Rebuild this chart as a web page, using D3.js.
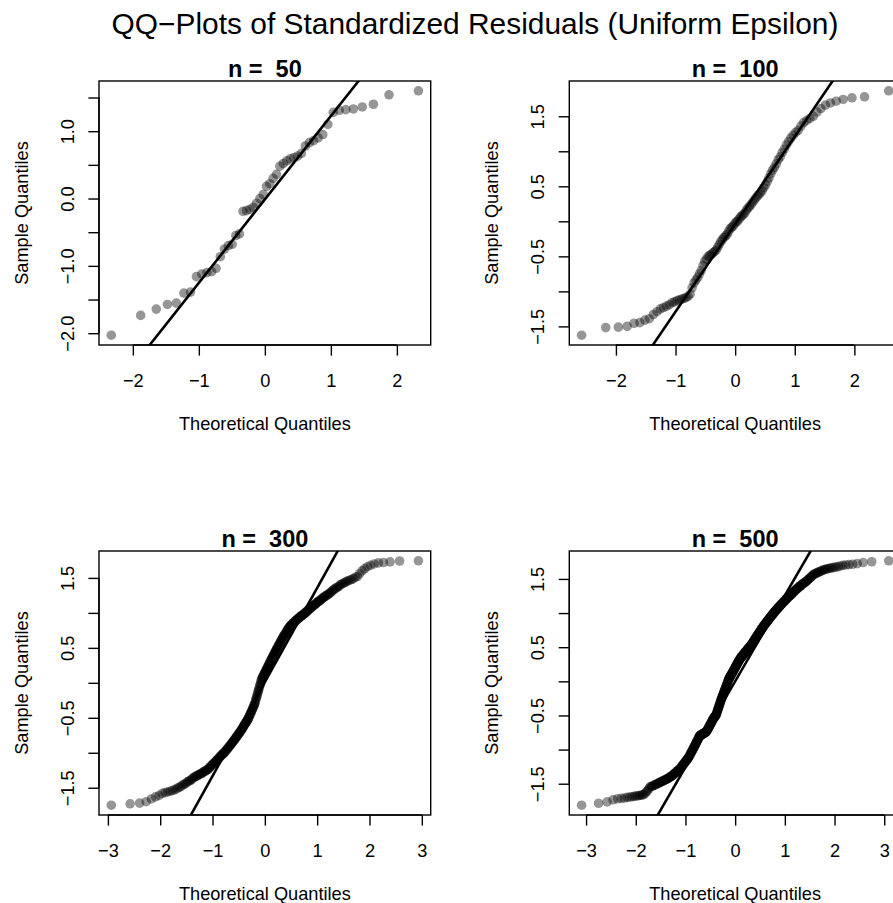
<!DOCTYPE html>
<html><head><meta charset="utf-8">
<script src="https://cdn.jsdelivr.net/npm/d3@7"></script>
<style>
body{margin:0;background:#fff}
svg text{font-family:"Liberation Sans",Arial,Helvetica,sans-serif;fill:#000}
</style>
</head><body>
<svg id="chart" width="893" height="903"></svg>
<script>
// ---------------- data ----------------
const mainTitle = "QQ\u2212Plots of Standardized Residuals (Uniform Epsilon)";
const panelTitles = ["n =  50", "n =  100", "n =  300", "n =  500"];
const xAxisTitle = "Theoretical Quantiles";
const yAxisTitle = "Sample Quantiles";

// sorted standardized residuals (sample quantiles)
const sample50 = [-2.03,-1.736,-1.642,-1.573,-1.553,-1.405,-1.39,-1.16,-1.12,-1.10,-1.085,-1.036,-0.864,-0.75,-0.70,-0.68,-0.55,-0.525,
-0.19,-0.18,-0.16,-0.13,-0.07,0.0,0.06,0.18,0.22,0.30,0.36,0.48,0.52,0.56,0.59,0.61,0.63,0.67,0.78,0.83,0.86,0.90,0.95,1.10,
1.28,1.31,1.32,1.33,1.36,1.40,1.54,1.60];

const sample100 = [-1.626,-1.517,-1.51,-1.50,-1.455,-1.446,-1.41,-1.39,-1.33,-1.29,-1.25,-1.23,-1.21,-1.19,-1.16,-1.15,-1.13,-1.12,-1.11,-1.10,
-1.09,-1.07,-1.04,-0.95,-0.88,-0.84,-0.80,-0.75,-0.70,-0.63,-0.57,-0.54,-0.50,-0.49,-0.47,-0.45,-0.43,-0.41,-0.37,-0.33,
-0.29,-0.26,-0.23,-0.21,-0.19,-0.15,-0.11,-0.09,-0.07,-0.04,-0.01,0.00,0.03,0.06,0.08,0.10,0.12,0.16,0.19,0.21,
0.24,0.27,0.30,0.33,0.36,0.38,0.41,0.44,0.48,0.52,0.57,0.62,0.68,0.73,0.77,0.82,0.88,0.92,0.98,1.03,
1.09,1.14,1.19,1.23,1.27,1.30,1.36,1.41,1.44,1.47,1.50,1.56,1.61,1.66,1.69,1.715,1.74,1.764,1.778,1.864];

const sample300 = [-1.75,-1.73,-1.72,-1.70,-1.66,-1.63,-1.61,-1.58,
-1.57,-1.56,-1.55,-1.54,-1.53,
-1.52,-1.50,-1.49,-1.48,-1.46,-1.45,
-1.44,-1.42,-1.41,-1.40,-1.39,-1.38,-1.36,-1.35,
-1.34,-1.33,-1.33,-1.32,-1.31,-1.30,-1.30,-1.29,-1.28,-1.27,-1.27,-1.26,-1.25,-1.24,-1.24,
-1.23,-1.21,-1.20,-1.19,-1.18,-1.17,-1.16,-1.15,-1.14,-1.13,-1.12,-1.11,-1.10,-1.09,
-1.08,-1.07,-1.06,-1.05,-1.04,-1.03,-1.02,-1.02,-1.01,-1.00,-0.99,-0.98,-0.97,-0.96,-0.95,-0.94,-0.93,
-0.92,-0.91,-0.90,-0.89,-0.88,-0.87,-0.86,-0.85,-0.84,-0.83,-0.82,-0.81,-0.80,-0.79,-0.78,-0.77,-0.76,-0.75,-0.74,
-0.73,-0.72,-0.71,-0.70,-0.69,-0.68,-0.67,-0.66,-0.65,-0.64,-0.62,-0.61,-0.60,-0.59,-0.58,-0.57,-0.56,-0.55,-0.54,-0.53,-0.52,
-0.50,-0.49,-0.47,-0.46,-0.44,-0.43,-0.41,-0.40,-0.38,-0.37,-0.35,-0.34,-0.32,-0.31,-0.29,
-0.27,-0.24,-0.22,-0.20,-0.18,-0.15,-0.13,-0.11,-0.09,-0.06,-0.04,-0.02,0.00,0.03,0.05,
0.06,0.08,0.09,0.10,0.11,0.13,0.14,0.15,0.16,0.18,0.19,0.20,0.21,0.23,0.24,
0.25,0.27,0.28,0.29,0.30,0.32,0.33,0.34,0.35,0.37,0.38,0.39,0.40,0.42,0.43,
0.44,0.45,0.47,0.48,0.49,0.50,0.51,0.53,0.54,0.55,0.56,0.57,0.59,0.60,0.61,0.62,0.63,0.65,0.66,
0.67,0.68,0.69,0.70,0.71,0.72,0.73,0.75,0.76,0.77,0.78,0.79,0.80,0.81,
0.82,0.82,0.83,0.84,0.84,0.85,0.86,0.86,0.87,0.88,0.89,0.89,0.90,
0.91,0.91,0.92,0.93,0.93,0.94,0.95,0.95,0.96,0.96,0.97,0.98,0.98,0.99,1.00,1.00,1.01,1.02,
1.03,1.04,1.04,1.05,1.06,1.07,1.08,1.08,1.09,1.10,1.11,1.12,1.12,1.13,1.14,
1.15,1.16,1.17,1.17,1.18,1.19,1.20,1.21,1.22,1.23,1.24,1.24,1.25,1.26,1.27,1.28,
1.29,1.30,1.32,1.33,1.34,1.35,1.36,1.37,1.38,1.40,1.41,1.42,
1.43,1.44,1.45,1.46,1.47,1.48,1.49,1.51,1.52,
1.56,1.60,1.63,1.66,1.68,1.70,1.715,1.72,1.73,1.742,1.745];

const sample500 = [-1.815,-1.786,-1.766,-1.737,-1.72,-1.715,-1.71,-1.70,
-1.695,-1.69,-1.685,-1.68,
-1.676,-1.672,-1.668,-1.664,-1.66,
-1.64,-1.62,-1.60,-1.575,-1.55,
-1.54,-1.54,-1.53,-1.52,-1.52,-1.51,-1.51,-1.50,-1.49,-1.49,-1.48,
-1.475,-1.47,-1.465,-1.46,-1.455,-1.45,-1.445,-1.44,-1.435,-1.43,-1.425,-1.42,-1.415,-1.41,
-1.40,-1.40,-1.39,-1.39,-1.38,-1.37,-1.37,-1.36,-1.35,-1.35,-1.34,-1.33,-1.33,-1.32,-1.31,-1.31,-1.30,-1.30,-1.29,
-1.28,-1.27,-1.27,-1.26,-1.25,-1.24,-1.23,-1.22,-1.22,-1.21,-1.20,-1.19,-1.18,-1.18,-1.17,-1.16,-1.15,-1.14,-1.14,-1.13,-1.12,-1.11,-1.10,-1.095,
-1.08,-1.07,-1.06,-1.05,-1.04,-1.03,-1.02,-1.01,-1.00,-0.99,-0.98,-0.97,-0.96,-0.95,-0.94,-0.93,-0.92,-0.91,-0.90,
-0.89,-0.88,-0.87,-0.86,-0.85,-0.84,-0.83,-0.82,-0.81,-0.80,
-0.80,-0.79,-0.79,-0.79,-0.79,-0.78,-0.78,-0.78,-0.77,-0.77,-0.77,-0.77,-0.76,-0.76,-0.76,-0.75,-0.75,-0.75,-0.75,-0.74,-0.74,-0.74,
-0.73,-0.72,-0.72,-0.71,-0.70,-0.69,-0.69,-0.68,-0.67,-0.66,-0.65,-0.65,-0.64,-0.63,-0.62,-0.62,-0.61,-0.60,-0.59,-0.58,-0.58,-0.57,-0.56,
-0.55,-0.55,-0.54,-0.54,-0.53,-0.52,-0.52,-0.51,-0.51,-0.50,-0.50,-0.49,
-0.48,-0.47,-0.46,-0.44,-0.43,-0.42,-0.41,-0.40,-0.39,-0.37,-0.36,-0.35,-0.34,-0.33,-0.32,-0.30,-0.29,-0.28,-0.27,
-0.26,-0.25,-0.24,-0.23,-0.22,-0.21,-0.20,-0.19,-0.18,-0.17,-0.16,-0.15,-0.14,-0.13,-0.12,-0.11,-0.10,-0.09,-0.08,-0.07,-0.06,-0.05,-0.04,-0.03,-0.02,-0.01,0.00,0.01,0.02,0.03,0.04,0.045,0.05,
0.06,0.06,0.07,0.08,0.08,0.09,0.10,0.10,0.11,0.12,0.12,0.13,0.14,0.14,0.15,0.16,0.16,0.17,0.18,0.18,
0.19,0.20,0.20,0.21,0.22,0.22,0.23,0.24,0.24,0.25,0.26,0.26,0.27,0.28,0.28,0.29,0.30,0.30,0.31,0.32,
0.32,0.33,0.33,0.34,0.34,0.35,0.35,0.36,0.36,0.37,0.37,0.37,0.38,0.38,0.39,0.39,0.40,0.40,0.41,0.41,
0.42,0.42,0.43,0.43,0.43,0.44,0.44,0.45,0.45,0.46,0.46,0.47,0.47,0.48,0.48,0.49,0.49,0.49,0.50,0.50,
0.51,0.51,0.52,0.52,0.53,0.53,0.54,0.54,0.55,0.55,0.56,
0.57,0.57,0.58,0.58,0.59,0.60,0.60,0.61,0.62,0.62,0.63,0.63,0.64,0.65,0.65,0.66,0.67,0.67,0.68,0.68,
0.69,0.70,0.70,0.71,0.72,0.72,0.73,0.73,0.74,0.75,0.75,0.76,0.77,0.77,0.78,0.78,0.79,0.80,0.80,0.81,
0.82,0.82,0.83,0.83,0.84,0.845,0.85,
0.86,0.86,0.87,0.87,0.88,0.89,0.89,0.90,0.90,0.91,0.92,0.92,0.93,0.93,0.94,0.95,0.95,0.96,0.96,0.97,
0.98,0.98,0.99,0.99,1.00,1.01,1.01,1.02,1.02,1.03,1.04,1.04,1.05,1.05,1.06,1.07,1.07,1.08,1.08,1.09,1.095,
1.10,1.11,1.11,1.12,1.13,1.13,1.14,1.14,1.15,1.16,1.16,1.17,1.17,1.18,1.19,1.19,1.20,1.21,1.21,1.22,
1.23,1.23,1.24,1.24,1.25,1.26,1.26,1.27,1.27,1.28,1.29,
1.30,1.30,1.31,1.32,1.33,1.33,1.34,1.35,1.35,1.36,1.37,1.38,1.38,1.39,1.40,1.40,1.41,1.42,1.43,1.43,1.44,1.45,1.45,1.46,
1.47,1.48,1.49,1.50,1.51,1.52,1.53,1.545,1.557,
1.565,1.57,1.58,1.585,1.59,1.60,1.605,1.61,1.62,1.63,
1.635,1.64,1.645,1.65,1.655,1.66,1.665,1.67,1.675,1.68,
1.69,1.70,1.705,1.71,1.715,1.725,1.74,1.752,1.766];

const samples = [sample50, sample100, sample300, sample500];

// reference lines (intercept, slope)
const lineIntercepts = [-0.014, -0.04, 0.012, 0.0];
const lineSlopes = [1.239, 1.25, 1.345, 1.257];

// ticks
const xTicksA = [-2, -1, 0, 1, 2];
const xTickLabelsA = ["\u22122", "\u22121", "0", "1", "2"];
const xTicksB = [-3, -2, -1, 0, 1, 2, 3];
const xTickLabelsB = ["\u22123", "\u22122", "\u22121", "0", "1", "2", "3"];
const yTicksA = [-2, -1.5, -1, -0.5, 0, 0.5, 1, 1.5];
const yTickLabelsA = ["\u22122.0", "", "\u22121.0", "", "0.0", "", "1.0", ""];
const yTicksB = [-1.5, -1, -0.5, 0, 0.5, 1, 1.5];
const yTickLabelsB = ["\u22121.5", "", "\u22120.5", "", "0.5", "", "1.5"];

const xTicks = [xTicksA, xTicksA, xTicksB, xTicksB];
const xTickLabels = [xTickLabelsA, xTickLabelsA, xTickLabelsB, xTickLabelsB];
const yTicks = [yTicksA, yTicksB, yTicksB, yTicksB];
const yTickLabels = [yTickLabelsA, yTickLabelsB, yTickLabelsB, yTickLabelsB];

// ---------------- helpers ----------------
function qnorm(p) {
  const a=[-3.969683028665376e+01,2.209460984245205e+02,-2.759285104469687e+02,1.383577518672690e+02,-3.066479806614716e+01,2.506628277459239e+00];
  const b=[-5.447609879822406e+01,1.615858368580409e+02,-1.556989798598866e+02,6.680131188771972e+01,-1.328068155288572e+01];
  const c=[-7.784894002430293e-03,-3.223964580411365e-01,-2.400758277161838e+00,-2.549732539343734e+00,4.374664141464968e+00,2.938163982698783e+00];
  const d=[7.784695709041462e-03,3.224671290700398e-01,2.445134137142996e+00,3.754408661907416e+00];
  const pl=0.02425, ph=1-pl; let q, r;
  if (p < pl) { q=Math.sqrt(-2*Math.log(p)); return (((((c[0]*q+c[1])*q+c[2])*q+c[3])*q+c[4])*q+c[5])/((((d[0]*q+d[1])*q+d[2])*q+d[3])*q+1); }
  if (p > ph) { q=Math.sqrt(-2*Math.log(1-p)); return -(((((c[0]*q+c[1])*q+c[2])*q+c[3])*q+c[4])*q+c[5])/((((d[0]*q+d[1])*q+d[2])*q+d[3])*q+1); }
  q=p-0.5; r=q*q;
  return (((((a[0]*r+a[1])*r+a[2])*r+a[3])*r+a[4])*r+a[5])*q/(((((b[0]*r+b[1])*r+b[2])*r+b[3])*r+b[4])*r+1);
}
// theoretical quantiles (R's ppoints, n > 10)
function theoretical(n) { return d3.range(n).map(i => qnorm((i + 0.5) / n)); }
function ext(r) { const d = (r[1]-r[0])*0.04; return [r[0]-d, r[1]+d]; }

// ---------------- layout ----------------
const svg = d3.select("#chart");
const plotW = 331.7, plotH = 264;
const colX = [99, 569.3], rowY = [81, 551];
const FS = 18.2;
const FF = '"Liberation Sans",Arial,sans-serif';

svg.append("text").attr("x", 475).attr("y", 34).attr("text-anchor", "middle")
  .style("font-size", "29.9px").text(mainTitle);

samples.forEach((ys, k) => {
  const left = colX[k % 2], top = rowY[Math.floor(k / 2)];
  const right = left + plotW, bottom = top + plotH;
  const xs = theoretical(ys.length);
  const x = d3.scaleLinear().domain(ext(d3.extent(xs))).range([left, right]);
  const y = d3.scaleLinear().domain(ext(d3.extent(ys))).range([bottom, top]);
  const g = svg.append("g");

  const clipId = "clip" + k;
  g.append("clipPath").attr("id", clipId).append("rect")
    .attr("x", left).attr("y", top).attr("width", plotW).attr("height", plotH);

  // points
  g.append("g").selectAll("circle").data(ys).join("circle")
    .attr("cx", (d, i) => x(xs[i])).attr("cy", d => y(d)).attr("r", 4.8)
    .attr("fill", "#000").attr("fill-opacity", 0.41);

  // reference line
  const xd = x.domain();
  g.append("line").attr("clip-path", `url(#${clipId})`)
    .attr("x1", x(xd[0])).attr("y1", y(lineIntercepts[k] + lineSlopes[k] * xd[0]))
    .attr("x2", x(xd[1])).attr("y2", y(lineIntercepts[k] + lineSlopes[k] * xd[1]))
    .attr("stroke", "#000").attr("stroke-width", 2.6);

  // box
  g.append("rect").attr("x", left).attr("y", top).attr("width", plotW).attr("height", plotH)
    .attr("fill", "none").attr("stroke", "#000").attr("stroke-width", 1.4);

  // x axis
  const xAxis = d3.axisBottom(x).tickValues(xTicks[k]).tickSize(10.6).tickPadding(0)
    .tickFormat((d, i) => xTickLabels[k][i]);
  const xa = g.append("g").attr("transform", `translate(0,${bottom})`).call(xAxis);
  xa.select(".domain").attr("stroke", "#000").attr("stroke-width", 1.4)
    .attr("d", `M${x(xTicks[k][0])},0H${x(xTicks[k][xTicks[k].length-1])}`);
  xa.selectAll(".tick line").attr("stroke", "#000").attr("stroke-width", 1.4);
  xa.selectAll(".tick text").attr("y", 41.7).attr("dy", null)
    .style("font-size", FS + "px").style("font-family", FF).attr("fill", "#000");

  // y axis
  const yAxis = d3.axisLeft(y).tickValues(yTicks[k]).tickSize(10.6).tickPadding(0)
    .tickFormat((d, i) => yTickLabels[k][i]);
  const ya = g.append("g").attr("transform", `translate(${left},0)`).call(yAxis);
  ya.select(".domain").attr("stroke", "#000").attr("stroke-width", 1.4)
    .attr("d", `M0,${y(yTicks[k][0])}V${y(yTicks[k][yTicks[k].length-1])}`);
  ya.selectAll(".tick line").attr("stroke", "#000").attr("stroke-width", 1.4);
  ya.selectAll(".tick text").attr("x", null).attr("dy", null)
    .attr("transform", "translate(-25,0) rotate(-90)").attr("text-anchor", "middle")
    .style("font-size", FS + "px").style("font-family", FF).attr("fill", "#000");

  // titles
  g.append("text").attr("x", (left + right) / 2).attr("y", top - 4.5).attr("text-anchor", "middle")
    .style("font-size", "23.5px").style("font-weight", "bold").style("white-space", "pre")
    .attr("xml:space", "preserve").text(panelTitles[k]);
  g.append("text").attr("x", (left + right) / 2).attr("y", bottom + 85).attr("text-anchor", "middle")
    .style("font-size", FS + "px").text(xAxisTitle);
  g.append("text").attr("transform", `translate(${left - 71},${(top + bottom) / 2}) rotate(-90)`)
    .attr("text-anchor", "middle").style("font-size", FS + "px").text(yAxisTitle);
});
</script>
</body></html>
